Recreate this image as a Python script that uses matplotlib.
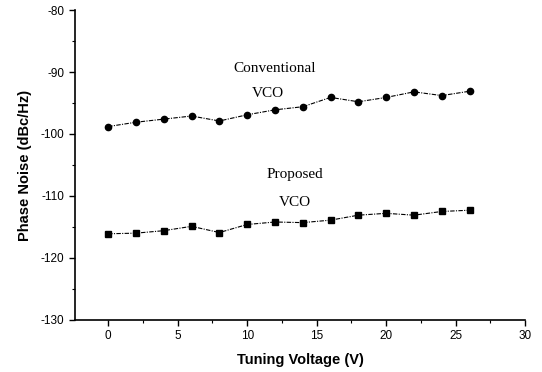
import matplotlib
matplotlib.use("Agg")
import matplotlib.pyplot as plt
from matplotlib.ticker import MultipleLocator

plt.rcParams["axes.unicode_minus"] = False

# tuning voltage (V)
voltage = [0, 2, 4, 6, 8, 10, 12, 14, 16, 18, 20, 22, 24, 26]

# phase noise (dBc/Hz)
conventional = [-98.8, -98.1, -97.6, -97.1, -97.9, -96.9, -96.1, -95.6,
                -94.1, -94.8, -94.1, -93.2, -93.8, -93.1]
proposed = [-116.1, -116.0, -115.6, -114.9, -115.9, -114.6, -114.2, -114.3,
            -113.9, -113.1, -112.8, -113.1, -112.5, -112.3]

sans = "Liberation Sans"
serif = "Liberation Serif"

fig = plt.figure(figsize=(5.42, 3.72), dpi=100)
ax = fig.add_axes([0.138, 0.140, 0.831, 0.833])

line_style = (0, (4, 1.2, 1, 1.2))
ax.plot(voltage, conventional, color="black", marker="o", markersize=4.5,
        linewidth=0.8, linestyle=line_style)
ax.plot(voltage, proposed, color="black", marker="s", markersize=4.5,
        linewidth=0.8, linestyle=line_style)

ax.text(12.0, -89.4, "Conventional", family=serif, fontsize=11,
        ha="center", va="center")
ax.text(11.5, -93.4, "VCO", family=serif, fontsize=11,
        ha="center", va="center")
ax.text(13.4, -106.6, "Proposed", family=serif, fontsize=11,
        ha="center", va="center")
ax.text(13.4, -111.0, "VCO", family=serif, fontsize=11,
        ha="center", va="center")

ax.set_xlim(-2.4, 30)
ax.set_ylim(-130, -80)
ax.xaxis.set_major_locator(MultipleLocator(5))
ax.xaxis.set_minor_locator(MultipleLocator(2.5))
ax.yaxis.set_major_locator(MultipleLocator(10))
ax.yaxis.set_minor_locator(MultipleLocator(5))

for side in ["top", "right"]:
    ax.spines[side].set_visible(False)
for side in ["left", "bottom"]:
    ax.spines[side].set_linewidth(1.2)

ax.tick_params(which="major", direction="out", length=4, width=1,
               labelsize=8.5)
ax.tick_params(which="minor", direction="out", length=2, width=0.8)
for lbl in ax.get_xticklabels() + ax.get_yticklabels():
    lbl.set_family(sans)

ax.set_xlabel("Tuning Voltage (V)", family=sans, fontsize=10.5,
              fontweight="bold", labelpad=8)
ax.set_ylabel("Phase Noise (dBc/Hz)", family=sans, fontsize=10.5,
              fontweight="bold", labelpad=6)

fig.savefig("out.png", dpi=100)
